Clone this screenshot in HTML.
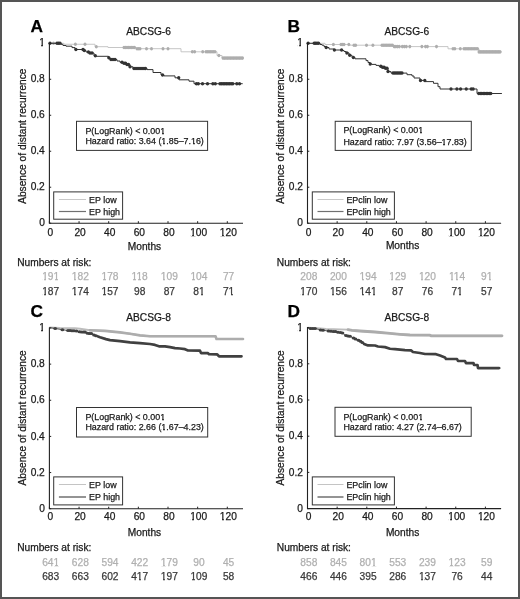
<!DOCTYPE html>
<html><head><meta charset="utf-8"><style>
html,body{margin:0;padding:0;background:#fff;}
svg{display:block;will-change:transform;filter:blur(0.25px);}
text{font-family:"Liberation Sans",sans-serif;stroke-width:0.25px;}
</style></head><body>
<svg width="520" height="599" viewBox="0 0 520 599">
<rect x="1" y="1" width="518" height="597" fill="#fff" stroke="#555" stroke-width="2"/>
<text x="30.4" y="32.4" font-size="17.3" font-weight="bold" fill="#000" stroke="#000">A</text>
<text x="126.2" y="35.2" font-size="10.2" fill="#1a1a1a" stroke="#1a1a1a">ABCSG-6</text>
<path d="M49.4,43.3H64V44.25H95V46.7H108V47.5H136V48.7H181V51.8H217V55.5H222V58.1H243.7" fill="none" stroke="#c6c6c6" stroke-width="1"/>
<g fill="#adadad"><ellipse cx="53.5" cy="43.3" rx="1.5" ry="1.8"/><ellipse cx="75.4" cy="44.25" rx="1.5" ry="1.8"/><ellipse cx="85" cy="44.25" rx="1.5" ry="1.8"/><ellipse cx="96.3" cy="46.7" rx="1.5" ry="1.8"/><ellipse cx="124" cy="47.5" rx="1.5" ry="1.8"/><ellipse cx="125.5" cy="47.5" rx="1.5" ry="1.8"/><ellipse cx="127" cy="47.5" rx="1.5" ry="1.8"/><ellipse cx="128.5" cy="47.5" rx="1.5" ry="1.8"/><ellipse cx="130" cy="47.5" rx="1.5" ry="1.8"/><ellipse cx="131.5" cy="47.5" rx="1.5" ry="1.8"/><ellipse cx="133" cy="47.5" rx="1.5" ry="1.8"/><ellipse cx="134.5" cy="47.5" rx="1.5" ry="1.8"/><ellipse cx="137" cy="48.7" rx="1.5" ry="1.8"/><ellipse cx="138.5" cy="48.7" rx="1.5" ry="1.8"/><ellipse cx="140" cy="48.7" rx="1.5" ry="1.8"/><ellipse cx="146.5" cy="48.7" rx="1.5" ry="1.8"/><ellipse cx="151.5" cy="48.7" rx="1.5" ry="1.8"/><ellipse cx="163" cy="48.7" rx="1.5" ry="1.8"/><ellipse cx="168" cy="48.7" rx="1.5" ry="1.8"/><ellipse cx="192.3" cy="51.8" rx="1.5" ry="1.8"/><ellipse cx="194.6" cy="51.8" rx="1.5" ry="1.8"/><ellipse cx="202.7" cy="51.8" rx="1.5" ry="1.8"/><ellipse cx="206" cy="51.8" rx="1.5" ry="1.8"/><ellipse cx="207.5" cy="51.8" rx="1.5" ry="1.8"/><ellipse cx="209" cy="51.8" rx="1.5" ry="1.8"/><ellipse cx="210.5" cy="51.8" rx="1.5" ry="1.8"/><ellipse cx="212" cy="51.8" rx="1.5" ry="1.8"/><ellipse cx="213.5" cy="51.8" rx="1.5" ry="1.8"/><ellipse cx="215" cy="51.8" rx="1.5" ry="1.8"/><ellipse cx="218.9" cy="55.5" rx="1.5" ry="1.8"/><ellipse cx="223" cy="58.1" rx="1.5" ry="1.8"/><ellipse cx="224.5" cy="58.1" rx="1.5" ry="1.8"/><ellipse cx="226" cy="58.1" rx="1.5" ry="1.8"/><ellipse cx="227.5" cy="58.1" rx="1.5" ry="1.8"/><ellipse cx="229" cy="58.1" rx="1.5" ry="1.8"/><ellipse cx="230.5" cy="58.1" rx="1.5" ry="1.8"/><ellipse cx="232" cy="58.1" rx="1.5" ry="1.8"/><ellipse cx="233.5" cy="58.1" rx="1.5" ry="1.8"/><ellipse cx="235" cy="58.1" rx="1.5" ry="1.8"/><ellipse cx="236.5" cy="58.1" rx="1.5" ry="1.8"/><ellipse cx="238" cy="58.1" rx="1.5" ry="1.8"/><ellipse cx="239.5" cy="58.1" rx="1.5" ry="1.8"/><ellipse cx="241" cy="58.1" rx="1.5" ry="1.8"/><ellipse cx="242.5" cy="58.1" rx="1.5" ry="1.8"/></g>
<path d="M49.4,43.3H61V44.3H63V45.5H66V46.2H72V47.6H75V49.5H84V50.5H86V52H89V53H94V55.8H96V56.3H108.5V57.7H110V59.6H117V61H120V62.3H123V63.3H127V64.5H130V66.8H133V68.5H147V69.6H153V72.5H161V74.9H164V75.9H175V77.8H179V79.8H189V81.2H194V83.7H242.7" fill="none" stroke="#333" stroke-width="1"/>
<g fill="#333"><ellipse cx="50" cy="43.3" rx="1.65" ry="1.75"/><ellipse cx="57" cy="43.3" rx="1.65" ry="1.75"/><ellipse cx="58.5" cy="43.3" rx="1.65" ry="1.75"/><ellipse cx="60" cy="43.3" rx="1.65" ry="1.75"/><ellipse cx="75.9" cy="49.5" rx="1.65" ry="1.75"/><ellipse cx="83" cy="49.5" rx="1.65" ry="1.75"/><ellipse cx="84.3" cy="50.5" rx="1.65" ry="1.75"/><ellipse cx="88.4" cy="52" rx="1.65" ry="1.75"/><ellipse cx="90" cy="53" rx="1.65" ry="1.75"/><ellipse cx="92" cy="53" rx="1.65" ry="1.75"/><ellipse cx="95.3" cy="55.8" rx="1.65" ry="1.75"/><ellipse cx="108.8" cy="57.7" rx="1.65" ry="1.75"/><ellipse cx="111" cy="59.6" rx="1.65" ry="1.75"/><ellipse cx="113" cy="59.6" rx="1.65" ry="1.75"/><ellipse cx="115" cy="59.6" rx="1.65" ry="1.75"/><ellipse cx="122" cy="62.3" rx="1.65" ry="1.75"/><ellipse cx="124" cy="63.3" rx="1.65" ry="1.75"/><ellipse cx="125.5" cy="63.3" rx="1.65" ry="1.75"/><ellipse cx="127" cy="64.5" rx="1.65" ry="1.75"/><ellipse cx="128.5" cy="64.5" rx="1.65" ry="1.75"/><ellipse cx="130" cy="66.8" rx="1.65" ry="1.75"/><ellipse cx="134" cy="68.5" rx="1.65" ry="1.75"/><ellipse cx="136" cy="68.5" rx="1.65" ry="1.75"/><ellipse cx="138" cy="68.5" rx="1.65" ry="1.75"/><ellipse cx="140" cy="68.5" rx="1.65" ry="1.75"/><ellipse cx="142" cy="68.5" rx="1.65" ry="1.75"/><ellipse cx="144" cy="68.5" rx="1.65" ry="1.75"/><ellipse cx="145.5" cy="68.5" rx="1.65" ry="1.75"/><ellipse cx="162.6" cy="74.9" rx="1.65" ry="1.75"/><ellipse cx="178.7" cy="77.8" rx="1.65" ry="1.75"/><ellipse cx="196.4" cy="83.7" rx="1.65" ry="1.75"/><ellipse cx="198.3" cy="83.7" rx="1.65" ry="1.75"/><ellipse cx="202.5" cy="83.7" rx="1.65" ry="1.75"/><ellipse cx="207.5" cy="83.7" rx="1.65" ry="1.75"/><ellipse cx="212.9" cy="83.7" rx="1.65" ry="1.75"/><ellipse cx="215.3" cy="83.7" rx="1.65" ry="1.75"/><ellipse cx="220" cy="83.7" rx="1.65" ry="1.75"/><ellipse cx="221.6" cy="83.7" rx="1.65" ry="1.75"/><ellipse cx="223.2" cy="83.7" rx="1.65" ry="1.75"/><ellipse cx="224.8" cy="83.7" rx="1.65" ry="1.75"/><ellipse cx="226.4" cy="83.7" rx="1.65" ry="1.75"/><ellipse cx="228" cy="83.7" rx="1.65" ry="1.75"/><ellipse cx="229.6" cy="83.7" rx="1.65" ry="1.75"/><ellipse cx="231.2" cy="83.7" rx="1.65" ry="1.75"/><ellipse cx="232.8" cy="83.7" rx="1.65" ry="1.75"/><ellipse cx="236.8" cy="83.7" rx="1.65" ry="1.75"/><ellipse cx="239.5" cy="83.7" rx="1.65" ry="1.75"/></g>
<path d="M49.4,42.8V223.2H243.01" fill="none" stroke="#222" stroke-width="1.1"/>
<path d="M49.4,223.2h1.8M49.4,187.22h1.8M49.4,151.24h1.8M49.4,115.26h1.8M49.4,79.28h1.8M49.4,43.3h1.8M49.4,223.2v-2M79.05,223.2v-2M108.7,223.2v-2M138.35,223.2v-2M168,223.2v-2M197.65,223.2v-2M227.3,223.2v-2" stroke="#222" stroke-width="1"/>
<text x="44.8" y="226.3" font-size="10.2" text-anchor="end" fill="#1a1a1a" stroke="#1a1a1a">0</text>
<text x="44.8" y="190.32" font-size="10.2" text-anchor="end" fill="#1a1a1a" stroke="#1a1a1a">0.2</text>
<text x="44.8" y="154.34" font-size="10.2" text-anchor="end" fill="#1a1a1a" stroke="#1a1a1a">0.4</text>
<text x="44.8" y="118.36" font-size="10.2" text-anchor="end" fill="#1a1a1a" stroke="#1a1a1a">0.6</text>
<text x="44.8" y="82.38" font-size="10.2" text-anchor="end" fill="#1a1a1a" stroke="#1a1a1a">0.8</text>
<text x="44.8" y="46.4" font-size="10.2" text-anchor="end" fill="#1a1a1a" stroke="#1a1a1a">1</text>
<text x="50.4" y="235.6" font-size="10.2" text-anchor="middle" fill="#1a1a1a" stroke="#1a1a1a">0</text>
<text x="80.05" y="235.6" font-size="10.2" text-anchor="middle" fill="#1a1a1a" stroke="#1a1a1a">20</text>
<text x="109.7" y="235.6" font-size="10.2" text-anchor="middle" fill="#1a1a1a" stroke="#1a1a1a">40</text>
<text x="139.35" y="235.6" font-size="10.2" text-anchor="middle" fill="#1a1a1a" stroke="#1a1a1a">60</text>
<text x="169" y="235.6" font-size="10.2" text-anchor="middle" fill="#1a1a1a" stroke="#1a1a1a">80</text>
<text x="198.65" y="235.6" font-size="10.2" text-anchor="middle" fill="#1a1a1a" stroke="#1a1a1a">100</text>
<text x="228.3" y="235.6" font-size="10.2" text-anchor="middle" fill="#1a1a1a" stroke="#1a1a1a">120</text>
<text x="144.5" y="249.6" font-size="10.2" text-anchor="middle" fill="#1a1a1a" stroke="#1a1a1a">Months</text>
<text transform="translate(25.9,136.2) rotate(-90)" font-size="10.2" text-anchor="middle" fill="#1a1a1a" stroke="#1a1a1a">Absence of distant recurrence</text>
<rect x="76.5" y="121.3" width="131.1" height="29.1" fill="#fff" stroke="#333" stroke-width="1"/>
<text x="85.4" y="133.8" font-size="8.9" fill="#1a1a1a" stroke="#1a1a1a">P(LogRank) &lt; 0.001</text>
<text x="85.4" y="143.7" font-size="8.9" fill="#1a1a1a" stroke="#1a1a1a">Hazard ratio: 3.64 (1.85–7.16)</text>
<rect x="53.7" y="191.9" width="68.9" height="27.3" fill="#fff" stroke="#333" stroke-width="1"/>
<path d="M58.9,199.5H86" stroke="#c8c8c8" stroke-width="1"/>
<path d="M58.9,211.5H86" stroke="#707070" stroke-width="1.2"/>
<text x="89.1" y="202.5" font-size="8.9" fill="#1a1a1a" stroke="#1a1a1a">EP low</text>
<text x="89.1" y="214.5" font-size="8.9" fill="#1a1a1a" stroke="#1a1a1a">EP high</text>
<text x="17.2" y="265.7" font-size="10.2" fill="#1a1a1a" stroke="#1a1a1a">Numbers at risk:</text>
<text x="50.7" y="280.3" font-size="10.2" text-anchor="middle" fill="#b0b0b0" stroke="#b0b0b0">191</text>
<text x="80.35" y="280.3" font-size="10.2" text-anchor="middle" fill="#b0b0b0" stroke="#b0b0b0">182</text>
<text x="110" y="280.3" font-size="10.2" text-anchor="middle" fill="#b0b0b0" stroke="#b0b0b0">178</text>
<text x="139.65" y="280.3" font-size="10.2" text-anchor="middle" fill="#b0b0b0" stroke="#b0b0b0">118</text>
<text x="169.3" y="280.3" font-size="10.2" text-anchor="middle" fill="#b0b0b0" stroke="#b0b0b0">109</text>
<text x="198.95" y="280.3" font-size="10.2" text-anchor="middle" fill="#b0b0b0" stroke="#b0b0b0">104</text>
<text x="228.6" y="280.3" font-size="10.2" text-anchor="middle" fill="#b0b0b0" stroke="#b0b0b0">77</text>
<text x="50.7" y="294.7" font-size="10.2" text-anchor="middle" fill="#3a3a3a" stroke="#3a3a3a">187</text>
<text x="80.35" y="294.7" font-size="10.2" text-anchor="middle" fill="#3a3a3a" stroke="#3a3a3a">174</text>
<text x="110" y="294.7" font-size="10.2" text-anchor="middle" fill="#3a3a3a" stroke="#3a3a3a">157</text>
<text x="139.65" y="294.7" font-size="10.2" text-anchor="middle" fill="#3a3a3a" stroke="#3a3a3a">98</text>
<text x="169.3" y="294.7" font-size="10.2" text-anchor="middle" fill="#3a3a3a" stroke="#3a3a3a">87</text>
<text x="198.95" y="294.7" font-size="10.2" text-anchor="middle" fill="#3a3a3a" stroke="#3a3a3a">81</text>
<text x="228.6" y="294.7" font-size="10.2" text-anchor="middle" fill="#3a3a3a" stroke="#3a3a3a">71</text>
<text x="287.4" y="32.4" font-size="17.3" font-weight="bold" fill="#000" stroke="#000">B</text>
<text x="384.4" y="35.2" font-size="10.2" fill="#1a1a1a" stroke="#1a1a1a">ABCSG-6</text>
<path d="M307.5,43.3H325V44.5H350V45.2H393V46.6H448V48.8H479V51.9H502" fill="none" stroke="#c6c6c6" stroke-width="1"/>
<g fill="#adadad"><ellipse cx="333.4" cy="44.5" rx="1.5" ry="1.8"/><ellipse cx="341" cy="44.5" rx="1.5" ry="1.8"/><ellipse cx="342.5" cy="44.5" rx="1.5" ry="1.8"/><ellipse cx="344" cy="44.5" rx="1.5" ry="1.8"/><ellipse cx="348.8" cy="44.5" rx="1.5" ry="1.8"/><ellipse cx="354" cy="45.2" rx="1.5" ry="1.8"/><ellipse cx="355.6" cy="45.2" rx="1.5" ry="1.8"/><ellipse cx="366.5" cy="45.2" rx="1.5" ry="1.8"/><ellipse cx="372.9" cy="45.2" rx="1.5" ry="1.8"/><ellipse cx="382" cy="45.2" rx="1.5" ry="1.8"/><ellipse cx="383.5" cy="45.2" rx="1.5" ry="1.8"/><ellipse cx="385" cy="45.2" rx="1.5" ry="1.8"/><ellipse cx="386.5" cy="45.2" rx="1.5" ry="1.8"/><ellipse cx="388" cy="45.2" rx="1.5" ry="1.8"/><ellipse cx="389.5" cy="45.2" rx="1.5" ry="1.8"/><ellipse cx="391" cy="45.2" rx="1.5" ry="1.8"/><ellipse cx="392.5" cy="45.2" rx="1.5" ry="1.8"/><ellipse cx="394.2" cy="46.6" rx="1.5" ry="1.8"/><ellipse cx="395.9" cy="46.6" rx="1.5" ry="1.8"/><ellipse cx="397.6" cy="46.6" rx="1.5" ry="1.8"/><ellipse cx="399.3" cy="46.6" rx="1.5" ry="1.8"/><ellipse cx="402.3" cy="46.6" rx="1.5" ry="1.8"/><ellipse cx="404.3" cy="46.6" rx="1.5" ry="1.8"/><ellipse cx="406.3" cy="46.6" rx="1.5" ry="1.8"/><ellipse cx="409.8" cy="46.6" rx="1.5" ry="1.8"/><ellipse cx="421.9" cy="46.6" rx="1.5" ry="1.8"/><ellipse cx="425.5" cy="46.6" rx="1.5" ry="1.8"/><ellipse cx="427.4" cy="46.6" rx="1.5" ry="1.8"/><ellipse cx="436.5" cy="46.6" rx="1.5" ry="1.8"/><ellipse cx="453" cy="48.8" rx="1.5" ry="1.8"/><ellipse cx="454.8" cy="48.8" rx="1.5" ry="1.8"/><ellipse cx="460.3" cy="48.8" rx="1.5" ry="1.8"/><ellipse cx="464" cy="48.8" rx="1.5" ry="1.8"/><ellipse cx="465.5" cy="48.8" rx="1.5" ry="1.8"/><ellipse cx="467" cy="48.8" rx="1.5" ry="1.8"/><ellipse cx="468.5" cy="48.8" rx="1.5" ry="1.8"/><ellipse cx="470" cy="48.8" rx="1.5" ry="1.8"/><ellipse cx="471.5" cy="48.8" rx="1.5" ry="1.8"/><ellipse cx="473" cy="48.8" rx="1.5" ry="1.8"/><ellipse cx="474.5" cy="48.8" rx="1.5" ry="1.8"/><ellipse cx="476" cy="48.8" rx="1.5" ry="1.8"/><ellipse cx="477.5" cy="48.8" rx="1.5" ry="1.8"/><ellipse cx="479" cy="51.9" rx="1.5" ry="1.8"/><ellipse cx="480.5" cy="51.9" rx="1.5" ry="1.8"/><ellipse cx="482" cy="51.9" rx="1.5" ry="1.8"/><ellipse cx="483.5" cy="51.9" rx="1.5" ry="1.8"/><ellipse cx="485" cy="51.9" rx="1.5" ry="1.8"/><ellipse cx="486.5" cy="51.9" rx="1.5" ry="1.8"/><ellipse cx="488" cy="51.9" rx="1.5" ry="1.8"/><ellipse cx="489.5" cy="51.9" rx="1.5" ry="1.8"/><ellipse cx="491" cy="51.9" rx="1.5" ry="1.8"/><ellipse cx="492.5" cy="51.9" rx="1.5" ry="1.8"/><ellipse cx="494" cy="51.9" rx="1.5" ry="1.8"/><ellipse cx="495.5" cy="51.9" rx="1.5" ry="1.8"/><ellipse cx="497" cy="51.9" rx="1.5" ry="1.8"/><ellipse cx="498.5" cy="51.9" rx="1.5" ry="1.8"/><ellipse cx="500" cy="51.9" rx="1.5" ry="1.8"/></g>
<path d="M307.5,43.3H320V44.5H322V45.2H324V46.5H326V47.5H329V49H334V50H342V50.5H344V51.5H346V52.9H349V55.3H352V57.5H355V58.8H366V60.6H368V62.5H370V64H372V64.4H376V65.4H379V66.3H381V67.3H385V68.3H388V71.6H391V73.1H407V74.7H412V76H414V78H420V80.4H425V81.6H433.5V83.3H438V86.7H440V89H477V93.5H501.9" fill="none" stroke="#333" stroke-width="1"/>
<g fill="#333"><ellipse cx="308.1" cy="43.3" rx="1.65" ry="1.75"/><ellipse cx="314.2" cy="43.3" rx="1.65" ry="1.75"/><ellipse cx="315.5" cy="43.3" rx="1.65" ry="1.75"/><ellipse cx="317" cy="43.3" rx="1.65" ry="1.75"/><ellipse cx="318.5" cy="43.3" rx="1.65" ry="1.75"/><ellipse cx="326.2" cy="47.5" rx="1.65" ry="1.75"/><ellipse cx="334.4" cy="50" rx="1.65" ry="1.75"/><ellipse cx="341.6" cy="50" rx="1.65" ry="1.75"/><ellipse cx="346.9" cy="52.9" rx="1.65" ry="1.75"/><ellipse cx="349.75" cy="55.3" rx="1.65" ry="1.75"/><ellipse cx="353.4" cy="57.5" rx="1.65" ry="1.75"/><ellipse cx="370.2" cy="64" rx="1.65" ry="1.75"/><ellipse cx="380.8" cy="66.3" rx="1.65" ry="1.75"/><ellipse cx="382.5" cy="67.3" rx="1.65" ry="1.75"/><ellipse cx="384" cy="67.3" rx="1.65" ry="1.75"/><ellipse cx="385.5" cy="68.3" rx="1.65" ry="1.75"/><ellipse cx="387" cy="68.3" rx="1.65" ry="1.75"/><ellipse cx="388" cy="71.6" rx="1.65" ry="1.75"/><ellipse cx="393" cy="73.1" rx="1.65" ry="1.75"/><ellipse cx="394.5" cy="73.1" rx="1.65" ry="1.75"/><ellipse cx="396" cy="73.1" rx="1.65" ry="1.75"/><ellipse cx="397.5" cy="73.1" rx="1.65" ry="1.75"/><ellipse cx="399" cy="73.1" rx="1.65" ry="1.75"/><ellipse cx="400.5" cy="73.1" rx="1.65" ry="1.75"/><ellipse cx="402" cy="73.1" rx="1.65" ry="1.75"/><ellipse cx="420.5" cy="80.4" rx="1.65" ry="1.75"/><ellipse cx="424.8" cy="80.4" rx="1.65" ry="1.75"/><ellipse cx="451" cy="89" rx="1.65" ry="1.75"/><ellipse cx="456.9" cy="89" rx="1.65" ry="1.75"/><ellipse cx="460.6" cy="89" rx="1.65" ry="1.75"/><ellipse cx="466.25" cy="89" rx="1.65" ry="1.75"/><ellipse cx="471.25" cy="89" rx="1.65" ry="1.75"/><ellipse cx="473.1" cy="89" rx="1.65" ry="1.75"/><ellipse cx="478.75" cy="93.5" rx="1.65" ry="1.75"/><ellipse cx="480.25" cy="93.5" rx="1.65" ry="1.75"/><ellipse cx="481.75" cy="93.5" rx="1.65" ry="1.75"/><ellipse cx="483.25" cy="93.5" rx="1.65" ry="1.75"/><ellipse cx="484.75" cy="93.5" rx="1.65" ry="1.75"/><ellipse cx="486.25" cy="93.5" rx="1.65" ry="1.75"/><ellipse cx="487.75" cy="93.5" rx="1.65" ry="1.75"/><ellipse cx="489.25" cy="93.5" rx="1.65" ry="1.75"/><ellipse cx="490.75" cy="93.5" rx="1.65" ry="1.75"/></g>
<path d="M307.5,42.8V223.2H501.11" fill="none" stroke="#222" stroke-width="1.1"/>
<path d="M307.5,223.2h1.8M307.5,187.22h1.8M307.5,151.24h1.8M307.5,115.26h1.8M307.5,79.28h1.8M307.5,43.3h1.8M307.5,223.2v-2M337.15,223.2v-2M366.8,223.2v-2M396.45,223.2v-2M426.1,223.2v-2M455.75,223.2v-2M485.4,223.2v-2" stroke="#222" stroke-width="1"/>
<text x="302.9" y="226.3" font-size="10.2" text-anchor="end" fill="#1a1a1a" stroke="#1a1a1a">0</text>
<text x="302.9" y="190.32" font-size="10.2" text-anchor="end" fill="#1a1a1a" stroke="#1a1a1a">0.2</text>
<text x="302.9" y="154.34" font-size="10.2" text-anchor="end" fill="#1a1a1a" stroke="#1a1a1a">0.4</text>
<text x="302.9" y="118.36" font-size="10.2" text-anchor="end" fill="#1a1a1a" stroke="#1a1a1a">0.6</text>
<text x="302.9" y="82.38" font-size="10.2" text-anchor="end" fill="#1a1a1a" stroke="#1a1a1a">0.8</text>
<text x="302.9" y="46.4" font-size="10.2" text-anchor="end" fill="#1a1a1a" stroke="#1a1a1a">1</text>
<text x="308.5" y="235.6" font-size="10.2" text-anchor="middle" fill="#1a1a1a" stroke="#1a1a1a">0</text>
<text x="338.15" y="235.6" font-size="10.2" text-anchor="middle" fill="#1a1a1a" stroke="#1a1a1a">20</text>
<text x="367.8" y="235.6" font-size="10.2" text-anchor="middle" fill="#1a1a1a" stroke="#1a1a1a">40</text>
<text x="397.45" y="235.6" font-size="10.2" text-anchor="middle" fill="#1a1a1a" stroke="#1a1a1a">60</text>
<text x="427.1" y="235.6" font-size="10.2" text-anchor="middle" fill="#1a1a1a" stroke="#1a1a1a">80</text>
<text x="456.75" y="235.6" font-size="10.2" text-anchor="middle" fill="#1a1a1a" stroke="#1a1a1a">100</text>
<text x="486.4" y="235.6" font-size="10.2" text-anchor="middle" fill="#1a1a1a" stroke="#1a1a1a">120</text>
<text x="402.6" y="249.4" font-size="10.2" text-anchor="middle" fill="#1a1a1a" stroke="#1a1a1a">Months</text>
<text transform="translate(284.1,136.2) rotate(-90)" font-size="10.2" text-anchor="middle" fill="#1a1a1a" stroke="#1a1a1a">Absence of distant recurrence</text>
<rect x="335.2" y="121.3" width="136.1" height="29.1" fill="#fff" stroke="#333" stroke-width="1"/>
<text x="343.4" y="133.4" font-size="8.9" fill="#1a1a1a" stroke="#1a1a1a">P(LogRank) &lt; 0.001</text>
<text x="343.4" y="145.3" font-size="8.9" fill="#1a1a1a" stroke="#1a1a1a">Hazard ratio: 7.97 (3.56–17.83)</text>
<rect x="312.3" y="191.9" width="82.1" height="27.3" fill="#fff" stroke="#333" stroke-width="1"/>
<path d="M317.5,199.5H343.5" stroke="#c8c8c8" stroke-width="1"/>
<path d="M317.5,211.5H343.5" stroke="#707070" stroke-width="1.2"/>
<text x="346.4" y="202.5" font-size="8.9" fill="#1a1a1a" stroke="#1a1a1a">EPclin low</text>
<text x="346.4" y="214.5" font-size="8.9" fill="#1a1a1a" stroke="#1a1a1a">EPclin high</text>
<text x="276.8" y="265.7" font-size="10.2" fill="#1a1a1a" stroke="#1a1a1a">Numbers at risk:</text>
<text x="308.8" y="280.3" font-size="10.2" text-anchor="middle" fill="#b0b0b0" stroke="#b0b0b0">208</text>
<text x="338.45" y="280.3" font-size="10.2" text-anchor="middle" fill="#b0b0b0" stroke="#b0b0b0">200</text>
<text x="368.1" y="280.3" font-size="10.2" text-anchor="middle" fill="#b0b0b0" stroke="#b0b0b0">194</text>
<text x="397.75" y="280.3" font-size="10.2" text-anchor="middle" fill="#b0b0b0" stroke="#b0b0b0">129</text>
<text x="427.4" y="280.3" font-size="10.2" text-anchor="middle" fill="#b0b0b0" stroke="#b0b0b0">120</text>
<text x="457.05" y="280.3" font-size="10.2" text-anchor="middle" fill="#b0b0b0" stroke="#b0b0b0">114</text>
<text x="486.7" y="280.3" font-size="10.2" text-anchor="middle" fill="#b0b0b0" stroke="#b0b0b0">91</text>
<text x="308.8" y="294.7" font-size="10.2" text-anchor="middle" fill="#3a3a3a" stroke="#3a3a3a">170</text>
<text x="338.45" y="294.7" font-size="10.2" text-anchor="middle" fill="#3a3a3a" stroke="#3a3a3a">156</text>
<text x="368.1" y="294.7" font-size="10.2" text-anchor="middle" fill="#3a3a3a" stroke="#3a3a3a">141</text>
<text x="397.75" y="294.7" font-size="10.2" text-anchor="middle" fill="#3a3a3a" stroke="#3a3a3a">87</text>
<text x="427.4" y="294.7" font-size="10.2" text-anchor="middle" fill="#3a3a3a" stroke="#3a3a3a">76</text>
<text x="457.05" y="294.7" font-size="10.2" text-anchor="middle" fill="#3a3a3a" stroke="#3a3a3a">71</text>
<text x="486.7" y="294.7" font-size="10.2" text-anchor="middle" fill="#3a3a3a" stroke="#3a3a3a">57</text>
<text x="30.4" y="316.8" font-size="17.3" font-weight="bold" fill="#000" stroke="#000">C</text>
<text x="126.2" y="320.5" font-size="10.2" fill="#1a1a1a" stroke="#1a1a1a">ABCSG-8</text>
<path d="M49.4,327.5 L60,328 L75,328.3 L80,328.8 L90,330.2 L105,330.9 L110,331.4 L120,332.4 L130,333.7 L140,335.4 L150,336.25 L215.5,336.3 L216.5,339 L243,339" fill="none" stroke="#bdbdbd" stroke-width="1.9" stroke-linejoin="round"/>
<path d="M90,330.2 L105,330.9 L110,331.4 L120,332.4 L130,333.7 L140,335.4 L150,336.25 L215.5,336.3 L216.5,339 L243,339" fill="none" stroke="#adadad" stroke-width="2.6" stroke-linejoin="round" stroke-linecap="round"/>
<path d="M49.4,327.5 L55.2,328.5 L62.4,329.7 L67.7,330.5 L76.8,330.9 L79,331.8 L85,332 L87.4,333.3 L91.3,333.5 L93.7,335 L98,336.5 L100,337.2 L106,339.1 L110,340.1 L120,341.1 L130,342.3 L140,343.2 L150,344 L155,344.9 L159,346.3 L165,346.4 L170,347.1 L175,348.1 L180,348.5 L185,349.2 L188,350.5 L200,350.7 L201,353.1 L208,353.2 L209,354.2 L217,354.3 L219,356.3 L241.5,356.3" fill="none" stroke="#555" stroke-width="1" stroke-linejoin="round"/>
<path d="M98,336.5 L100,337.2 L106,339.1 L110,340.1 L120,341.1 L130,342.3 L140,343.2 L150,344 L155,344.9 L159,346.3 L165,346.4 L170,347.1 L175,348.1 L180,348.5 L185,349.2 L188,350.5 L200,350.7 L201,353.1 L208,353.2 L209,354.2 L217,354.3 L219,356.3 L241.5,356.3" fill="none" stroke="#404040" stroke-width="2.7" stroke-linejoin="round" stroke-linecap="round"/>
<g fill="#404040"><ellipse cx="55.2" cy="328.5" rx="1.9" ry="1.5"/><ellipse cx="62.4" cy="329.7" rx="1.9" ry="1.5"/><ellipse cx="68" cy="330.5" rx="1.9" ry="1.5"/><ellipse cx="70" cy="330.6" rx="1.9" ry="1.5"/><ellipse cx="72" cy="330.7" rx="1.9" ry="1.5"/><ellipse cx="74" cy="330.8" rx="1.9" ry="1.5"/><ellipse cx="76.5" cy="330.9" rx="1.9" ry="1.5"/><ellipse cx="79.5" cy="331.8" rx="1.9" ry="1.5"/><ellipse cx="81.5" cy="331.9" rx="1.9" ry="1.5"/><ellipse cx="83.5" cy="331.9" rx="1.9" ry="1.5"/><ellipse cx="85" cy="332" rx="1.9" ry="1.5"/><ellipse cx="87.5" cy="333.3" rx="1.9" ry="1.5"/><ellipse cx="89.5" cy="333.4" rx="1.9" ry="1.5"/><ellipse cx="91.3" cy="333.5" rx="1.9" ry="1.5"/><ellipse cx="94" cy="335.1" rx="1.9" ry="1.5"/><ellipse cx="96" cy="335.8" rx="1.9" ry="1.5"/></g>
<path d="M49.4,327.5V508.7H243.01" fill="none" stroke="#222" stroke-width="1.1"/>
<path d="M49.4,508.7h1.8M49.4,472.56h1.8M49.4,436.42h1.8M49.4,400.28h1.8M49.4,364.14h1.8M49.4,328h1.8M49.4,508.7v-2M79.05,508.7v-2M108.7,508.7v-2M138.35,508.7v-2M168,508.7v-2M197.65,508.7v-2M227.3,508.7v-2" stroke="#222" stroke-width="1"/>
<text x="44.8" y="511.8" font-size="10.2" text-anchor="end" fill="#1a1a1a" stroke="#1a1a1a">0</text>
<text x="44.8" y="475.66" font-size="10.2" text-anchor="end" fill="#1a1a1a" stroke="#1a1a1a">0.2</text>
<text x="44.8" y="439.52" font-size="10.2" text-anchor="end" fill="#1a1a1a" stroke="#1a1a1a">0.4</text>
<text x="44.8" y="403.38" font-size="10.2" text-anchor="end" fill="#1a1a1a" stroke="#1a1a1a">0.6</text>
<text x="44.8" y="367.24" font-size="10.2" text-anchor="end" fill="#1a1a1a" stroke="#1a1a1a">0.8</text>
<text x="44.8" y="331.1" font-size="10.2" text-anchor="end" fill="#1a1a1a" stroke="#1a1a1a">1</text>
<text x="50.4" y="520.1" font-size="10.2" text-anchor="middle" fill="#1a1a1a" stroke="#1a1a1a">0</text>
<text x="80.05" y="520.1" font-size="10.2" text-anchor="middle" fill="#1a1a1a" stroke="#1a1a1a">20</text>
<text x="109.7" y="520.1" font-size="10.2" text-anchor="middle" fill="#1a1a1a" stroke="#1a1a1a">40</text>
<text x="139.35" y="520.1" font-size="10.2" text-anchor="middle" fill="#1a1a1a" stroke="#1a1a1a">60</text>
<text x="169" y="520.1" font-size="10.2" text-anchor="middle" fill="#1a1a1a" stroke="#1a1a1a">80</text>
<text x="198.65" y="520.1" font-size="10.2" text-anchor="middle" fill="#1a1a1a" stroke="#1a1a1a">100</text>
<text x="228.3" y="520.1" font-size="10.2" text-anchor="middle" fill="#1a1a1a" stroke="#1a1a1a">120</text>
<text x="144.5" y="536" font-size="10.2" text-anchor="middle" fill="#1a1a1a" stroke="#1a1a1a">Months</text>
<text transform="translate(25.9,417.9) rotate(-90)" font-size="10.2" text-anchor="middle" fill="#1a1a1a" stroke="#1a1a1a">Absence of distant recurrence</text>
<rect x="76.5" y="407.5" width="131.2" height="29.5" fill="#fff" stroke="#333" stroke-width="1"/>
<text x="85.4" y="419.7" font-size="8.9" fill="#1a1a1a" stroke="#1a1a1a">P(LogRank) &lt; 0.001</text>
<text x="85.4" y="429.8" font-size="8.9" fill="#1a1a1a" stroke="#1a1a1a">Hazard ratio: 2.66 (1.67–4.23)</text>
<rect x="53.7" y="476.9" width="68.9" height="28" fill="#fff" stroke="#333" stroke-width="1"/>
<path d="M58.9,484.5H86" stroke="#c4c4c4" stroke-width="1"/>
<path d="M58.9,497H86" stroke="#888" stroke-width="1.8"/>
<text x="89.1" y="487.7" font-size="8.9" fill="#1a1a1a" stroke="#1a1a1a">EP low</text>
<text x="89.1" y="500" font-size="8.9" fill="#1a1a1a" stroke="#1a1a1a">EP high</text>
<text x="17.2" y="551.1" font-size="10.2" fill="#1a1a1a" stroke="#1a1a1a">Numbers at risk:</text>
<text x="50.7" y="565.5" font-size="10.2" text-anchor="middle" fill="#b0b0b0" stroke="#b0b0b0">641</text>
<text x="80.35" y="565.5" font-size="10.2" text-anchor="middle" fill="#b0b0b0" stroke="#b0b0b0">628</text>
<text x="110" y="565.5" font-size="10.2" text-anchor="middle" fill="#b0b0b0" stroke="#b0b0b0">594</text>
<text x="139.65" y="565.5" font-size="10.2" text-anchor="middle" fill="#b0b0b0" stroke="#b0b0b0">422</text>
<text x="169.3" y="565.5" font-size="10.2" text-anchor="middle" fill="#b0b0b0" stroke="#b0b0b0">179</text>
<text x="198.95" y="565.5" font-size="10.2" text-anchor="middle" fill="#b0b0b0" stroke="#b0b0b0">90</text>
<text x="228.6" y="565.5" font-size="10.2" text-anchor="middle" fill="#b0b0b0" stroke="#b0b0b0">45</text>
<text x="50.7" y="580" font-size="10.2" text-anchor="middle" fill="#3a3a3a" stroke="#3a3a3a">683</text>
<text x="80.35" y="580" font-size="10.2" text-anchor="middle" fill="#3a3a3a" stroke="#3a3a3a">663</text>
<text x="110" y="580" font-size="10.2" text-anchor="middle" fill="#3a3a3a" stroke="#3a3a3a">602</text>
<text x="139.65" y="580" font-size="10.2" text-anchor="middle" fill="#3a3a3a" stroke="#3a3a3a">417</text>
<text x="169.3" y="580" font-size="10.2" text-anchor="middle" fill="#3a3a3a" stroke="#3a3a3a">197</text>
<text x="198.95" y="580" font-size="10.2" text-anchor="middle" fill="#3a3a3a" stroke="#3a3a3a">109</text>
<text x="228.6" y="580" font-size="10.2" text-anchor="middle" fill="#3a3a3a" stroke="#3a3a3a">58</text>
<text x="287.4" y="316.8" font-size="17.3" font-weight="bold" fill="#000" stroke="#000">D</text>
<text x="384.4" y="320.5" font-size="10.2" fill="#1a1a1a" stroke="#1a1a1a">ABCSG-8</text>
<path d="M307.5,327.8 L318,328.3 L326,329 L348,329.6 L352,330.3 L360,331 L375,332 L390,333.4 L400,334.3 L410,335 L430,335.2 L431,335.8 L502,335.8" fill="none" stroke="#bdbdbd" stroke-width="1.9" stroke-linejoin="round"/>
<path d="M348,329.6 L352,330.3 L360,331 L375,332 L390,333.4 L400,334.3 L410,335 L430,335.2 L431,335.8 L502,335.8" fill="none" stroke="#acacac" stroke-width="2.8" stroke-linejoin="round" stroke-linecap="round"/>
<path d="M307.5,327.8 L310,328.4 L315,328.6 L318,329.2 L321,330.1 L324,330.3 L328,331.1 L336,331.6 L337,332.1 L343,333 L345,335.3 L350,336.3 L354,338.2 L360,340.6 L364,343.9 L368,345.4 L375,345.5 L378,346.5 L385,347.1 L390,348.75 L395,349.2 L405,350.1 L411,350.4 L413,352 L420,353 L425,354 L436,354.2 L440,355.6 L445,357.5 L446,359 L457,359 L458,361 L465,361 L466,363.1 L473.5,363.1 L474,365 L477.5,365 L478,368.1 L499,368.1 L500.5,368.1" fill="none" stroke="#555" stroke-width="1" stroke-linejoin="round"/>
<path d="M364,343.9 L368,345.4 L375,345.5 L378,346.5 L385,347.1 L390,348.75 L395,349.2 L405,350.1 L411,350.4 L413,352 L420,353 L425,354 L436,354.2 L440,355.6 L445,357.5 L446,359 L457,359 L458,361 L465,361 L466,363.1 L473.5,363.1 L474,365 L477.5,365 L478,368.1 L499,368.1" fill="none" stroke="#404040" stroke-width="2.7" stroke-linejoin="round" stroke-linecap="round"/>
<g fill="#404040"><ellipse cx="310.5" cy="328.4" rx="1.9" ry="1.5"/><ellipse cx="312.8" cy="328.5" rx="1.9" ry="1.5"/><ellipse cx="315" cy="328.6" rx="1.9" ry="1.5"/><ellipse cx="320.6" cy="330" rx="1.9" ry="1.5"/><ellipse cx="323" cy="330.3" rx="1.9" ry="1.5"/><ellipse cx="328.5" cy="331.1" rx="1.9" ry="1.5"/><ellipse cx="331" cy="331.3" rx="1.9" ry="1.5"/><ellipse cx="333.5" cy="331.5" rx="1.9" ry="1.5"/><ellipse cx="335.5" cy="331.6" rx="1.9" ry="1.5"/><ellipse cx="338" cy="332.2" rx="1.9" ry="1.5"/><ellipse cx="340.5" cy="332.6" rx="1.9" ry="1.5"/><ellipse cx="342.5" cy="332.9" rx="1.9" ry="1.5"/><ellipse cx="346" cy="335.4" rx="1.9" ry="1.5"/><ellipse cx="348" cy="335.9" rx="1.9" ry="1.5"/><ellipse cx="350" cy="336.3" rx="1.9" ry="1.5"/><ellipse cx="353.5" cy="337.9" rx="1.9" ry="1.5"/><ellipse cx="355.5" cy="338.9" rx="1.9" ry="1.5"/><ellipse cx="358.5" cy="340.3" rx="1.9" ry="1.5"/><ellipse cx="360.5" cy="341.3" rx="1.9" ry="1.5"/><ellipse cx="362.3" cy="342.6" rx="1.9" ry="1.5"/></g>
<path d="M307.5,327.1V508.6H501.11" fill="none" stroke="#222" stroke-width="1.1"/>
<path d="M307.5,508.6h1.8M307.5,472.4h1.8M307.5,436.2h1.8M307.5,400h1.8M307.5,363.8h1.8M307.5,327.6h1.8M307.5,508.6v-2M337.15,508.6v-2M366.8,508.6v-2M396.45,508.6v-2M426.1,508.6v-2M455.75,508.6v-2M485.4,508.6v-2" stroke="#222" stroke-width="1"/>
<text x="302.9" y="511.7" font-size="10.2" text-anchor="end" fill="#1a1a1a" stroke="#1a1a1a">0</text>
<text x="302.9" y="475.5" font-size="10.2" text-anchor="end" fill="#1a1a1a" stroke="#1a1a1a">0.2</text>
<text x="302.9" y="439.3" font-size="10.2" text-anchor="end" fill="#1a1a1a" stroke="#1a1a1a">0.4</text>
<text x="302.9" y="403.1" font-size="10.2" text-anchor="end" fill="#1a1a1a" stroke="#1a1a1a">0.6</text>
<text x="302.9" y="366.9" font-size="10.2" text-anchor="end" fill="#1a1a1a" stroke="#1a1a1a">0.8</text>
<text x="302.9" y="330.7" font-size="10.2" text-anchor="end" fill="#1a1a1a" stroke="#1a1a1a">1</text>
<text x="308.5" y="520.1" font-size="10.2" text-anchor="middle" fill="#1a1a1a" stroke="#1a1a1a">0</text>
<text x="338.15" y="520.1" font-size="10.2" text-anchor="middle" fill="#1a1a1a" stroke="#1a1a1a">20</text>
<text x="367.8" y="520.1" font-size="10.2" text-anchor="middle" fill="#1a1a1a" stroke="#1a1a1a">40</text>
<text x="397.45" y="520.1" font-size="10.2" text-anchor="middle" fill="#1a1a1a" stroke="#1a1a1a">60</text>
<text x="427.1" y="520.1" font-size="10.2" text-anchor="middle" fill="#1a1a1a" stroke="#1a1a1a">80</text>
<text x="456.75" y="520.1" font-size="10.2" text-anchor="middle" fill="#1a1a1a" stroke="#1a1a1a">100</text>
<text x="486.4" y="520.1" font-size="10.2" text-anchor="middle" fill="#1a1a1a" stroke="#1a1a1a">120</text>
<text x="402.6" y="536" font-size="10.2" text-anchor="middle" fill="#1a1a1a" stroke="#1a1a1a">Months</text>
<text transform="translate(284.1,417.9) rotate(-90)" font-size="10.2" text-anchor="middle" fill="#1a1a1a" stroke="#1a1a1a">Absence of distant recurrence</text>
<rect x="335" y="407.3" width="136.2" height="29" fill="#fff" stroke="#333" stroke-width="1"/>
<text x="343.4" y="419.8" font-size="8.9" fill="#1a1a1a" stroke="#1a1a1a">P(LogRank) &lt; 0.001</text>
<text x="343.4" y="429.8" font-size="8.9" fill="#1a1a1a" stroke="#1a1a1a">Hazard ratio: 4.27 (2.74–6.67)</text>
<rect x="312.3" y="476.9" width="82.1" height="28" fill="#fff" stroke="#333" stroke-width="1"/>
<path d="M317.5,484.5H343.5" stroke="#c4c4c4" stroke-width="1"/>
<path d="M317.5,497H343.5" stroke="#888" stroke-width="1.8"/>
<text x="346.4" y="487.7" font-size="8.9" fill="#1a1a1a" stroke="#1a1a1a">EPclin low</text>
<text x="346.4" y="500" font-size="8.9" fill="#1a1a1a" stroke="#1a1a1a">EPclin high</text>
<text x="276.8" y="551.1" font-size="10.2" fill="#1a1a1a" stroke="#1a1a1a">Numbers at risk:</text>
<text x="308.8" y="565.5" font-size="10.2" text-anchor="middle" fill="#b0b0b0" stroke="#b0b0b0">858</text>
<text x="338.45" y="565.5" font-size="10.2" text-anchor="middle" fill="#b0b0b0" stroke="#b0b0b0">845</text>
<text x="368.1" y="565.5" font-size="10.2" text-anchor="middle" fill="#b0b0b0" stroke="#b0b0b0">801</text>
<text x="397.75" y="565.5" font-size="10.2" text-anchor="middle" fill="#b0b0b0" stroke="#b0b0b0">553</text>
<text x="427.4" y="565.5" font-size="10.2" text-anchor="middle" fill="#b0b0b0" stroke="#b0b0b0">239</text>
<text x="457.05" y="565.5" font-size="10.2" text-anchor="middle" fill="#b0b0b0" stroke="#b0b0b0">123</text>
<text x="486.7" y="565.5" font-size="10.2" text-anchor="middle" fill="#b0b0b0" stroke="#b0b0b0">59</text>
<text x="308.8" y="580" font-size="10.2" text-anchor="middle" fill="#3a3a3a" stroke="#3a3a3a">466</text>
<text x="338.45" y="580" font-size="10.2" text-anchor="middle" fill="#3a3a3a" stroke="#3a3a3a">446</text>
<text x="368.1" y="580" font-size="10.2" text-anchor="middle" fill="#3a3a3a" stroke="#3a3a3a">395</text>
<text x="397.75" y="580" font-size="10.2" text-anchor="middle" fill="#3a3a3a" stroke="#3a3a3a">286</text>
<text x="427.4" y="580" font-size="10.2" text-anchor="middle" fill="#3a3a3a" stroke="#3a3a3a">137</text>
<text x="457.05" y="580" font-size="10.2" text-anchor="middle" fill="#3a3a3a" stroke="#3a3a3a">76</text>
<text x="486.7" y="580" font-size="10.2" text-anchor="middle" fill="#3a3a3a" stroke="#3a3a3a">44</text>
<g id="feet" fill="#fff" shape-rendering="crispEdges"><rect x="39" y="45" width="2" height="2"/><rect x="43" y="45" width="2" height="2"/><rect x="191" y="234" width="1" height="2"/><rect x="194" y="234" width="2" height="2"/><rect x="220" y="234" width="2" height="2"/><rect x="224" y="234" width="1" height="2"/><rect x="160" y="132" width="2" height="3"/><rect x="164" y="132" width="1" height="3"/><rect x="162" y="142" width="1" height="3"/><rect x="165" y="142" width="1" height="3"/><rect x="191" y="142" width="2" height="3"/><rect x="195" y="142" width="1" height="3"/><rect x="43" y="279" width="1" height="2"/><rect x="46" y="279" width="2" height="2"/><rect x="54" y="279" width="1" height="2"/><rect x="58" y="279" width="1" height="2"/><rect x="72" y="279" width="2" height="2"/><rect x="76" y="279" width="1" height="2"/><rect x="102" y="279" width="1" height="2"/><rect x="106" y="279" width="1" height="2"/><rect x="132" y="279" width="1" height="2"/><rect x="136" y="279" width="1" height="2"/><rect x="137" y="279" width="1" height="2"/><rect x="141" y="279" width="1" height="2"/><rect x="161" y="279" width="2" height="2"/><rect x="165" y="279" width="1" height="2"/><rect x="191" y="279" width="1" height="2"/><rect x="195" y="279" width="1" height="2"/><rect x="43" y="293" width="1" height="3"/><rect x="46" y="293" width="2" height="3"/><rect x="72" y="293" width="2" height="3"/><rect x="76" y="293" width="1" height="3"/><rect x="102" y="293" width="1" height="3"/><rect x="106" y="293" width="1" height="3"/><rect x="199" y="293" width="2" height="3"/><rect x="203" y="293" width="2" height="3"/><rect x="229" y="293" width="2" height="3"/><rect x="233" y="293" width="1" height="3"/><rect x="298" y="45" width="1" height="2"/><rect x="301" y="45" width="2" height="2"/><rect x="449" y="234" width="1" height="2"/><rect x="452" y="234" width="2" height="2"/><rect x="478" y="234" width="2" height="2"/><rect x="482" y="234" width="1" height="2"/><rect x="418" y="132" width="2" height="2"/><rect x="422" y="132" width="1" height="2"/><rect x="442" y="144" width="1" height="2"/><rect x="445" y="144" width="2" height="2"/><rect x="360" y="279" width="2" height="2"/><rect x="364" y="279" width="1" height="2"/><rect x="390" y="279" width="1" height="2"/><rect x="393" y="279" width="2" height="2"/><rect x="419" y="279" width="2" height="2"/><rect x="423" y="279" width="1" height="2"/><rect x="449" y="279" width="2" height="2"/><rect x="453" y="279" width="2" height="2"/><rect x="454" y="279" width="2" height="2"/><rect x="458" y="279" width="1" height="2"/><rect x="487" y="279" width="2" height="2"/><rect x="491" y="279" width="1" height="2"/><rect x="301" y="293" width="1" height="3"/><rect x="304" y="293" width="2" height="3"/><rect x="330" y="293" width="2" height="3"/><rect x="334" y="293" width="2" height="3"/><rect x="360" y="293" width="2" height="3"/><rect x="364" y="293" width="1" height="3"/><rect x="371" y="293" width="2" height="3"/><rect x="375" y="293" width="2" height="3"/><rect x="457" y="293" width="2" height="3"/><rect x="461" y="293" width="2" height="3"/><rect x="39" y="330" width="2" height="2"/><rect x="43" y="330" width="2" height="2"/><rect x="191" y="519" width="1" height="2"/><rect x="194" y="519" width="2" height="2"/><rect x="220" y="519" width="2" height="2"/><rect x="224" y="519" width="1" height="2"/><rect x="160" y="418" width="2" height="3"/><rect x="164" y="418" width="1" height="3"/><rect x="162" y="428" width="1" height="3"/><rect x="165" y="428" width="1" height="3"/><rect x="54" y="564" width="1" height="2"/><rect x="58" y="564" width="1" height="2"/><rect x="161" y="564" width="2" height="2"/><rect x="165" y="564" width="1" height="2"/><rect x="137" y="578" width="2" height="3"/><rect x="141" y="578" width="1" height="3"/><rect x="161" y="578" width="2" height="3"/><rect x="165" y="578" width="1" height="3"/><rect x="191" y="578" width="1" height="3"/><rect x="195" y="578" width="1" height="3"/><rect x="298" y="329" width="1" height="3"/><rect x="301" y="329" width="2" height="3"/><rect x="449" y="519" width="1" height="2"/><rect x="452" y="519" width="2" height="2"/><rect x="478" y="519" width="2" height="2"/><rect x="482" y="519" width="1" height="2"/><rect x="418" y="418" width="2" height="3"/><rect x="422" y="418" width="1" height="3"/><rect x="371" y="564" width="2" height="2"/><rect x="375" y="564" width="2" height="2"/><rect x="449" y="564" width="1" height="2"/><rect x="453" y="564" width="1" height="2"/><rect x="419" y="578" width="2" height="3"/><rect x="423" y="578" width="1" height="3"/></g>
</svg>
</body></html>
